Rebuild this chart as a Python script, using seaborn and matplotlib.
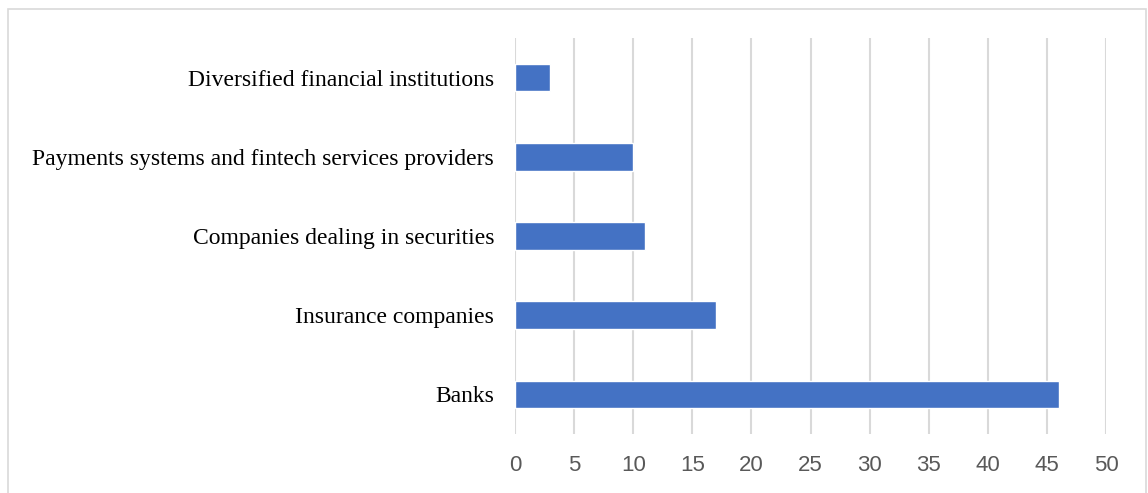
import matplotlib
matplotlib.use("Agg")
import matplotlib.pyplot as plt
from matplotlib.patches import Rectangle
import seaborn as sns
import pandas as pd

categories = [
    "Diversified financial institutions",
    "Payments systems and fintech services providers",
    "Companies dealing in securities",
    "Insurance companies",
    "Banks",
]
counts = [3, 10, 11, 17, 46]
x_ticks = [0, 5, 10, 15, 20, 25, 30, 35, 40, 45, 50]

df = pd.DataFrame({"category": categories, "count": counts})

sns.set_theme(style="white")
plt.rcParams["font.family"] = ["Liberation Sans", "DejaVu Sans"]

fig = plt.figure(figsize=(11.48, 4.93), dpi=100)
W, H = 1148, 493
ax = fig.add_axes([515 / W, 1 - 434 / H, (1106 - 515) / W, (434 - 38) / H])

sns.barplot(data=df, x="count", y="category", order=categories,
            color="#4472C4", saturation=1, width=0.35, ax=ax)

ax.set_xlim(0, 50)
ax.set_ylim(4.5, -0.5)
ax.set_xticks(x_ticks)
ax.set_xlabel("")
ax.set_ylabel("")
ax.grid(axis="x", color="#d9d9d9", linewidth=1.5)
ax.set_axisbelow(True)
for s in ax.spines.values():
    s.set_visible(False)

ax.tick_params(axis="x", length=0, pad=15, labelsize=16, labelcolor="#595959")
ax.tick_params(axis="y", length=0, pad=15, labelsize=17, labelcolor="#000000")
for lbl in ax.get_yticklabels():
    lbl.set_fontfamily("Liberation Serif")

# outer frame of the chart area
fig.patches.append(Rectangle((8 / W, -0.05), (1146 - 8) / W, 1 - 9 / H + 0.05,
                             transform=fig.transFigure, fill=False,
                             edgecolor="#d9d9d9", linewidth=1.2))

fig.savefig("out.png", dpi=100, facecolor="white")
